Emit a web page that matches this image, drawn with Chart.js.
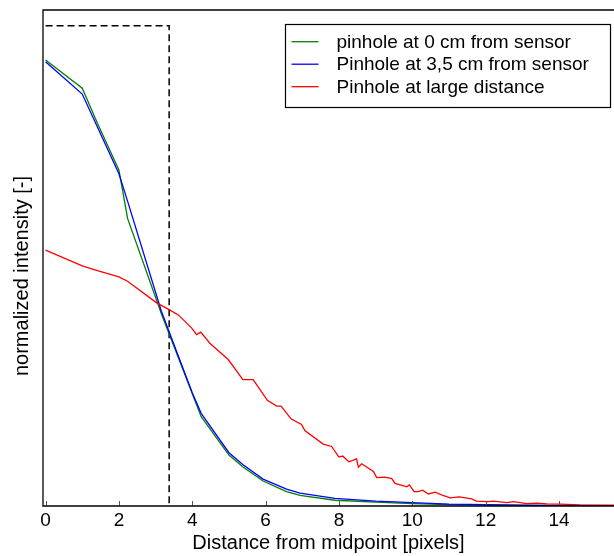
<!DOCTYPE html>
<html>
<head>
<meta charset="utf-8">
<script src="https://cdn.jsdelivr.net/npm/chart.js@4.4.1/dist/chart.umd.min.js"></script>
<style>
  html, body { margin: 0; padding: 0; background: #ffffff; }
  canvas { display: block; }
</style>
</head>
<body>
<canvas id="c" width="614" height="556"></canvas>
<script>
// ---- data ----
const seriesLabels = [
  "pinhole at 0 cm from sensor",
  "Pinhole at 3,5 cm from sensor",
  "Pinhole at large distance"
];
const greenX = [0, 1, 1.414, 2, 2.236, 3.16, 4.03, 4.243, 5, 5.385, 5.93, 6.57, 6.94, 7.89, 9, 10, 11, 12, 13, 14, 15.5];
const greenY = [0.929, 0.870, 0.797, 0.700, 0.599, 0.400, 0.228, 0.186, 0.106, 0.081, 0.052, 0.030, 0.022, 0.012, 0.008, 0.005, 0.003, 0.002, 0.001, 0.0005, 0.0003];
const blueX = [0, 1, 2, 2.236, 3.16, 4, 4.243, 5, 5.385, 5.93, 6.57, 6.94, 7.89, 9, 10, 11, 12, 13, 14, 15.5];
const blueY = [0.925, 0.858, 0.692, 0.635, 0.405, 0.236, 0.193, 0.111, 0.086, 0.056, 0.035, 0.027, 0.016, 0.010, 0.007, 0.004, 0.003, 0.002, 0.001, 0.0005];
const redX = [0, 1, 1.414, 2, 2.236, 3.03, 3.37, 3.62, 3.98, 4.12, 4.23, 4.48, 4.98, 5.38, 5.66, 6.05, 6.3, 6.42, 6.7, 6.98, 7.07, 7.57, 7.8, 8.0, 8.1, 8.27, 8.48, 8.53, 8.62, 8.94, 9.03, 9.25, 9.44, 9.53, 9.85, 9.92, 10.05, 10.16, 10.28, 10.44, 10.62, 10.8, 11.03, 11.28, 11.62, 11.75, 12.07, 12.21, 12.58, 12.76, 13.12, 13.39, 13.67, 14.03, 14.57, 15.5];
const redY = [0.533, 0.500, 0.490, 0.477, 0.468, 0.423, 0.409, 0.398, 0.371, 0.357, 0.362, 0.339, 0.305, 0.263, 0.263, 0.220, 0.208, 0.208, 0.181, 0.170, 0.157, 0.129, 0.124, 0.102, 0.104, 0.092, 0.098, 0.081, 0.088, 0.072, 0.059, 0.060, 0.057, 0.047, 0.040, 0.044, 0.030, 0.030, 0.033, 0.025, 0.029, 0.023, 0.017, 0.019, 0.015, 0.010, 0.009, 0.010, 0.007, 0.009, 0.005, 0.006, 0.0045, 0.004, 0.0025, 0.002];
const dashX = [0, 3.37, 3.37];
const dashY = [1, 1, 0];
const xTicks = [0, 2, 4, 6, 8, 10, 12, 14];
const xRange = [-0.07, 15.5];
const yRange = [0, 1.033];
const xTitle = 'Distance from midpoint [pixels]';
const yTitle = 'normalized intensity [-]';

const pts = (xs, ys) => xs.map((x, i) => ({ x: x, y: ys[i] }));
const FONT = "'Liberation Sans', Arial, 'DejaVu Sans', sans-serif";

const framePlugin = {
  id: 'frame',
  afterDatasetsDraw(chart) {
    const { ctx, chartArea: a, scales } = chart;
    ctx.save();
    // inward tick marks
    ctx.strokeStyle = '#555555';
    ctx.lineWidth = 1;
    xTicks.forEach(v => {
      const px = Math.round(scales.x.getPixelForValue(v)) + 0.5;
      ctx.beginPath();
      ctx.moveTo(px, a.bottom);
      ctx.lineTo(px, a.bottom - 5);
      ctx.stroke();
    });
    // frame: left, bottom, top
    ctx.strokeStyle = '#000000';
    ctx.lineWidth = 1.3;
    ctx.beginPath();
    ctx.moveTo(a.right + 2, a.top);
    ctx.lineTo(a.left, a.top);
    ctx.lineTo(a.left, a.bottom);
    ctx.lineTo(a.right + 2, a.bottom);
    ctx.stroke();
    // y axis title (rotated)
    ctx.save();
    ctx.translate(22, (a.top + a.bottom) / 2 + 18);
    ctx.rotate(-Math.PI / 2);
    ctx.font = '20px ' + FONT;
    ctx.fillStyle = '#000000';
    ctx.textAlign = 'center';
    ctx.textBaseline = 'middle';
    ctx.fillText(yTitle, 0, 0);
    ctx.restore();
    ctx.restore();
  },
  afterDraw(chart) {
    // legend box like matplotlib
    const { ctx } = chart;
    const ds = chart.data.datasets.filter(d => d.label);
    const box = { l: 285.5, t: 24.5, r: 610.5, b: 107.5 };
    ctx.save();
    ctx.fillStyle = '#ffffff';
    ctx.fillRect(box.l, box.t, box.r - box.l, box.b - box.t);
    ctx.strokeStyle = '#000000';
    ctx.lineWidth = 1.2;
    ctx.strokeRect(box.l, box.t, box.r - box.l, box.b - box.t);
    ctx.font = '19px ' + FONT;
    ctx.textBaseline = 'middle';
    ctx.textAlign = 'left';
    ds.forEach((d, i) => {
      const y = 41.7 + i * 22.5;
      ctx.strokeStyle = d.borderColor;
      ctx.lineWidth = 1.3;
      ctx.beginPath();
      ctx.moveTo(291.5, y);
      ctx.lineTo(318.5, y);
      ctx.stroke();
      ctx.fillStyle = '#000000';
      ctx.fillText(d.label, 336.5, y + 1);
    });
    ctx.restore();
  }
};

new Chart(document.getElementById('c'), {
  type: 'line',
  data: {
    datasets: [
      { data: pts(dashX, dashY), borderColor: '#000000', borderWidth: 1.5, borderDash: [7, 4], order: 4 },
      { label: seriesLabels[0], data: pts(greenX, greenY), borderColor: '#008000', borderWidth: 1.3, order: 3 },
      { label: seriesLabels[1], data: pts(blueX, blueY), borderColor: '#0000ff', borderWidth: 1.3, order: 2 },
      { label: seriesLabels[2], data: pts(redX, redY), borderColor: '#ff0000', borderWidth: 1.3, order: 1 }
    ]
  },
  options: {
    responsive: false,
    animation: false,
    devicePixelRatio: 1,
    layout: { padding: { top: 10, right: 0, left: 0, bottom: 0 } },
    elements: { point: { radius: 0 }, line: { tension: 0, fill: false } },
    plugins: { legend: { display: false }, tooltip: { enabled: false } },
    scales: {
      x: {
        type: 'linear',
        min: xRange[0],
        max: xRange[1],
        afterBuildTicks: s => { s.ticks = xTicks.map(v => ({ value: v })); },
        afterFit: s => { s.height = 50; },
        grid: { display: false, drawTicks: false },
        border: { display: false },
        ticks: { color: '#000000', font: { family: FONT, size: 19 }, padding: 3, maxRotation: 0, autoSkip: false },
        title: { display: true, text: xTitle, color: '#000000', font: { family: FONT, size: 20 }, padding: { top: 0, bottom: 1 } }
      },
      y: {
        type: 'linear',
        min: yRange[0],
        max: yRange[1],
        afterFit: s => { s.width = 43; },
        grid: { display: false, drawTicks: false },
        border: { display: false },
        ticks: { display: false },
        title: { display: false }
      }
    }
  },
  plugins: [framePlugin]
});
</script>
</body>
</html>
